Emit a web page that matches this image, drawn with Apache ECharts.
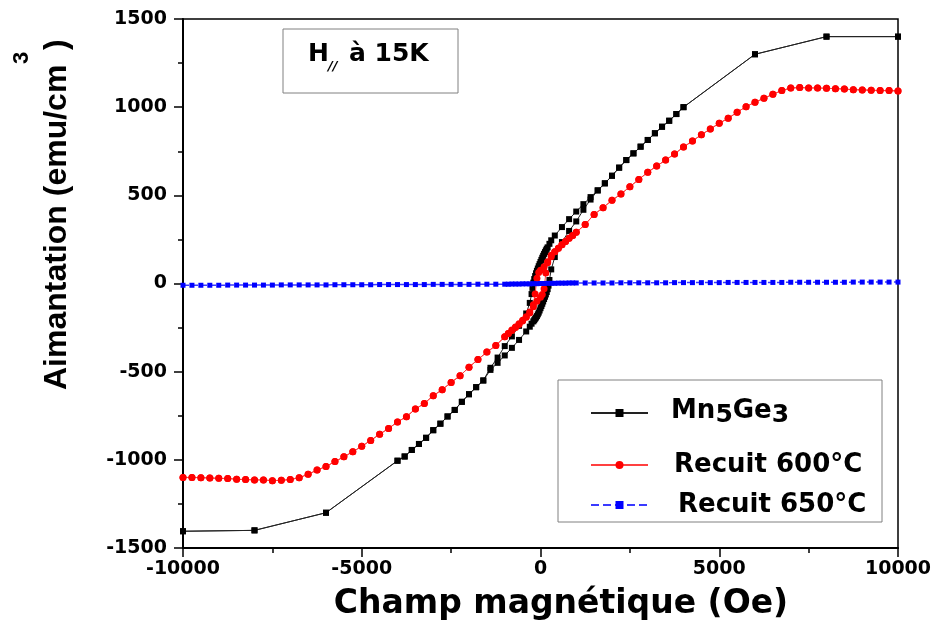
<!DOCTYPE html>
<html><head><meta charset="utf-8">
<script src="https://cdn.jsdelivr.net/npm/echarts/dist/echarts.min.js"></script>
<style>html,body{margin:0;padding:0;background:#fff}#c{width:935px;height:639px}</style>
</head><body><div id="c"></div>
<script>
// ---------- Data ----------
// Mn5Ge3 : outer parts (both branches coincide)
var BK_R_H = [1600,1800,2000,2200,2400,2600,2800,3000,3200,3400,3600,3800,4000,6000,8000,10000];
var BK_R_M = [528,568,611,657,700,738,776,814,852,889,923,961,1000,1300,1400,1400];
var BK_L_H = [-10000,-8000,-6000,-4000,-3800,-3600,-3400,-3200,-3000,-2800,-2600,-2400,-2200,-2000,-1800,-1600];
var BK_L_M = [-1405,-1400,-1300,-1005,-981,-944,-910,-875,-832,-795,-754,-717,-671,-628,-588,-550];
// Mn5Ge3 : hysteresis loop, descending branch
var BK_D_H = [1400,1200,1000,800,600,400,300,250,200,175,150,125,100,75,50,25,0,-25,-50,-75,-100,-125,-150,-175,-200,-225,-250,-300,-400,-600,-800,-1000,-1200,-1400];
var BK_D_M = [490,450,408,365,320,272,245,225,205,197,188,178,168,157,146,134,122,110,98,85,72,58,42,25,5,-25,-60,-110,-170,-240,-300,-355,-420,-478];
// Mn5Ge3 : hysteresis loop, ascending branch
var BK_A_H = [-1400,-1200,-1000,-800,-600,-400,-300,-250,-200,-175,-150,-125,-100,-75,-50,-25,0,25,50,75,100,125,150,175,200,225,250,300,400,600,800,1000,1200,1400];
var BK_A_M = [-490,-450,-408,-365,-320,-272,-245,-228,-215,-208,-200,-193,-185,-175,-165,-153,-140,-128,-115,-102,-88,-75,-62,-48,-32,-12,20,80,150,235,298,352,418,476];

// Recuit 600°C : outer parts
var RD_R_H = [1250,1500,1750,2000,2250,2500,2750,3000,3250,3500,3750,4000,4250,4500,4750,5000,5250,5500,5750,6000,6250,6500,6750,7000,7250,7500,7750,8000,8250,8500,8750,9000,9250,9500,9750,10000];
var RD_R_M = [335,392,430,472,507,549,590,631,666,700,735,774,808,844,876,909,937,971,1003,1028,1050,1073,1094,1109,1111,1109,1109,1107,1105,1103,1099,1098,1096,1094,1094,1092];
var RD_L_H = [-10000,-9750,-9500,-9250,-9000,-8750,-8500,-8250,-8000,-7750,-7500,-7250,-7000,-6750,-6500,-6250,-6000,-5750,-5500,-5250,-5000,-4750,-4500,-4250,-4000,-3750,-3500,-3250,-3000,-2750,-2500,-2250,-2000,-1750,-1500,-1250];
var RD_L_M = [-1100,-1100,-1101,-1103,-1105,-1106,-1110,-1112,-1114,-1114,-1118,-1116,-1112,-1101,-1082,-1058,-1038,-1010,-983,-954,-923,-890,-855,-822,-785,-755,-712,-680,-636,-602,-561,-523,-475,-431,-389,-352];
// Recuit 600°C : loop
var RD_D_H = [1000,900,800,700,600,500,400,300,200,100,0,-50,-100,-150,-200,-300,-400,-500,-600,-700,-800,-900,-1000];
var RD_D_M = [290,272,256,238,220,200,180,152,124,95,75,62,30,-60,-120,-168,-192,-212,-232,-250,-266,-284,-302];
var RD_A_H = [-1000,-900,-800,-700,-600,-500,-400,-300,-200,-100,0,50,100,150,200,300,400,500,600,700,800,900,1000];
var RD_A_M = [-302,-284,-264,-246,-228,-208,-188,-162,-132,-100,-78,-62,-30,60,118,160,180,200,220,238,256,272,290];

// Recuit 650°C
var BL_H = [-10000,-9750,-9500,-9250,-9000,-8750,-8500,-8250,-8000,-7750,-7500,-7250,-7000,-6750,-6500,-6250,-6000,-5750,-5500,-5250,-5000,-4750,-4500,-4250,-4000,-3750,-3500,-3250,-3000,-2750,-2500,-2250,-2000,-1750,-1500,-1250,
  -1000,-900,-800,-700,-600,-500,-400,-300,-200,-100,0,100,200,300,400,500,600,700,800,900,1000,
  1250,1500,1750,2000,2250,2500,2750,3000,3250,3500,3750,4000,4250,4500,4750,5000,5250,5500,5750,6000,6250,6500,6750,7000,7250,7500,7750,8000,8250,8500,8750,9000,9250,9500,9750,10000];
var BL_M = [-10,-10,-10,-10,-10,-9,-9,-9,-9,-9,-9,-8,-8,-8,-8,-8,-8,-7,-7,-7,-7,-7,-6,-6,-6,-6,-6,-6,-5,-5,-5,-5,-5,-4,-4,-4,
  -4,-4,-3,-3,-3,-2,-2,-2,-1,-1,0,0,1,1,1,2,2,2,3,3,3,
  3,3,3,3,4,4,4,4,4,4,5,5,5,5,5,5,6,6,6,6,6,6,6,7,7,7,7,7,7,7,8,8,8,8,8,8];

var SERIES_NAMES = ['Mn5Ge3', 'Recuit 600°C', 'Recuit 650°C'];
var X_TICKS = {min: -10000, max: 10000, step: 5000};
var Y_TICKS = {min: -1500, max: 1500, step: 500};

// ---------- build ----------
function pairs(H, M) { return H.map(function (h, i) { return [h, M[i]]; }); }
function rev(a) { return a.slice().reverse(); }
var blackData = rev(pairs(BK_R_H, BK_R_M)).concat(pairs(BK_D_H, BK_D_M), rev(pairs(BK_L_H, BK_L_M)),
                pairs(BK_L_H, BK_L_M), pairs(BK_A_H, BK_A_M), pairs(BK_R_H, BK_R_M));
var redData = rev(pairs(RD_R_H, RD_R_M)).concat(pairs(RD_D_H, RD_D_M), rev(pairs(RD_L_H, RD_L_M)),
                pairs(RD_L_H, RD_L_M), pairs(RD_A_H, RD_A_M), pairs(RD_R_H, RD_R_M));
var blueData = pairs(BL_H, BL_M);

var chart = echarts.init(document.getElementById('c'), null, {renderer: 'canvas'});
var tickFont = {fontFamily: 'DejaVu Sans', fontWeight: 'bold', fontSize: 19, color: '#000',
                formatter: function (v) { return String(v); }};
var legText = {fontFamily: 'DejaVu Sans', fontWeight: 'bold', fontSize: 26, color: '#000'};

function legendFor(name, top, pad, extra) {
  var l = {
    data: [name], left: 590, top: top, orient: 'vertical', padding: 0,
    itemWidth: 57, itemHeight: 10, selectedMode: false,
    textStyle: Object.assign({padding: [0, 0, 0, pad]}, legText)
  };
  if (extra) { for (var k in extra) l[k] = extra[k]; }
  return l;
}

var option = {
  animation: false,
  backgroundColor: '#fff',
  grid: {left: 183, right: 37, top: 19, bottom: 91, show: true, borderColor: '#000', borderWidth: 1.5},
  xAxis: {
    type: 'value', min: X_TICKS.min, max: X_TICKS.max, interval: X_TICKS.step,
    axisLine: {onZero: false, lineStyle: {color: '#000', width: 2}},
    axisTick: {length: 9, lineStyle: {color: '#000', width: 1.5}},
    minorTick: {show: true, splitNumber: 2, length: 5, lineStyle: {color: '#000', width: 1.5}},
    splitLine: {show: false},
    axisLabel: Object.assign({margin: 12}, tickFont)
  },
  yAxis: {
    type: 'value', min: Y_TICKS.min, max: Y_TICKS.max, interval: Y_TICKS.step,
    axisLine: {onZero: false, lineStyle: {color: '#000', width: 2}},
    axisTick: {length: 9, lineStyle: {color: '#000', width: 1.5}},
    minorTick: {show: true, splitNumber: 2, length: 5, lineStyle: {color: '#000', width: 1.5}},
    splitLine: {show: false},
    axisLabel: Object.assign({margin: 16}, tickFont)
  },
  legend: [
    legendFor(SERIES_NAMES[0], 398, 18, {
      formatter: '{t|Mn}{s|5}{t|Ge}{s|3}',
      textStyle: Object.assign({padding: [0, 0, 0, 18], rich: {
        t: {fontFamily: 'DejaVu Sans', fontWeight: 'bold', fontSize: 26, color: '#000', lineHeight: 30, verticalAlign: 'top'},
        s: {fontFamily: 'DejaVu Sans', fontWeight: 'bold', fontSize: 25, color: '#000', lineHeight: 10, verticalAlign: 'bottom'}
      }}, legText)
    }),
    legendFor(SERIES_NAMES[1], 452, 21),
    legendFor(SERIES_NAMES[2], 492, 25)
  ],
  series: [
    {name: SERIES_NAMES[0], type: 'line', data: blackData, symbol: 'rect', symbolSize: 6,
     itemStyle: {color: '#000'}, lineStyle: {color: '#222', width: 1}, z: 2},
    {name: SERIES_NAMES[1], type: 'line', data: redData, symbol: 'circle', symbolSize: 7,
     itemStyle: {color: '#ff0000'}, lineStyle: {color: '#ff4040', width: 1}, z: 3},
    {name: SERIES_NAMES[2], type: 'line', data: blueData, symbol: 'rect', symbolSize: 5,
     itemStyle: {color: '#0000ff'}, lineStyle: {color: '#3a3aff', width: 1.5, type: 'dashed'}, z: 4}
  ],
  graphic: [
    {type: 'rect', shape: {x: 283, y: 29, width: 175, height: 64}, style: {fill: '#fff', stroke: '#808080', lineWidth: 1}, z: 10},
    {type: 'text', x: 308, y: 54, style: {text: 'H', font: 'bold 25px "DejaVu Sans"', fill: '#000', align: 'left', verticalAlign: 'middle'}, z: 11},
    {type: 'text', x: 328, y: 67, style: {text: '//', font: 'italic bold 13px "DejaVu Sans"', fill: '#000', align: 'left', verticalAlign: 'middle'}, z: 11},
    {type: 'text', x: 349, y: 54, style: {text: 'à 15K', font: 'bold 25px "DejaVu Sans"', fill: '#000', align: 'left', verticalAlign: 'middle'}, z: 11},
    {type: 'rect', shape: {x: 558, y: 380, width: 324, height: 142}, style: {fill: '#fff', stroke: '#808080', lineWidth: 1}, z: 1},
    {type: 'text', x: 561, y: 604, style: {text: 'Champ magnétique (Oe)', font: 'bold 33px "DejaVu Sans"', fill: '#000', align: 'center', verticalAlign: 'middle'}},
    {type: 'text', x: 57, y: 390, rotation: Math.PI / 2, style: {text: 'Aimantation (emu/cm', font: 'bold 32px "Liberation Sans"', fill: '#000', align: 'left', verticalAlign: 'middle'}},
    {type: 'text', x: 22, y: 64, rotation: Math.PI / 2, style: {text: '3', font: 'bold 22px "Liberation Sans"', fill: '#000', align: 'left', verticalAlign: 'middle'}},
    {type: 'text', x: 57, y: 50, rotation: Math.PI / 2, style: {text: ')', font: 'bold 32px "Liberation Sans"', fill: '#000', align: 'left', verticalAlign: 'middle'}}
  ]
};
chart.setOption(option);
</script></body></html>
